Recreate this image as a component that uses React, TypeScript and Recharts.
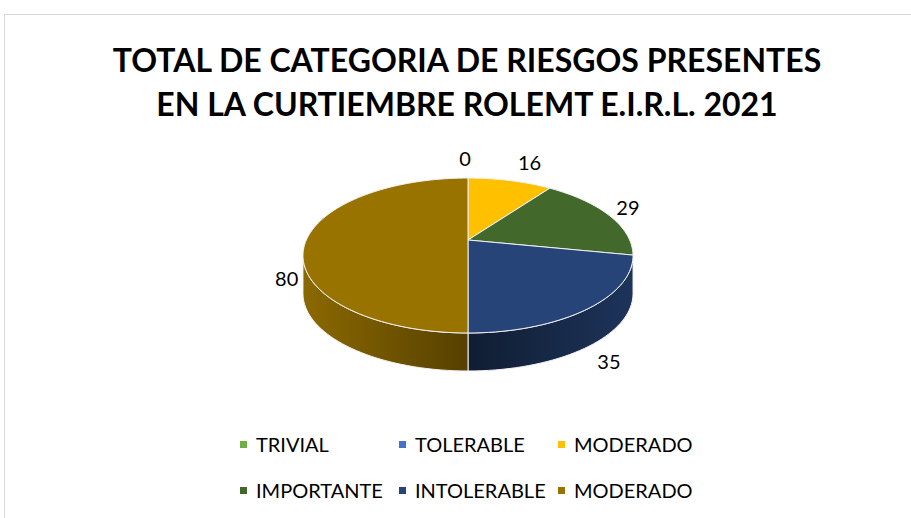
import { PieChart, Pie, Legend } from "recharts";

const categories = ["TRIVIAL", "TOLERABLE", "MODERADO", "IMPORTANTE", "INTOLERABLE", "MODERADO"];
const values = [0, 0, 16, 29, 35, 80];
const colors = ["#70AD47", "#4472C4", "#FFC000", "#43682B", "#264478", "#997300"];

const title = ["TOTAL DE CATEGORIA DE RIESGOS PRESENTES", "EN LA CURTIEMBRE ROLEMT E.I.R.L. 2021"];

const data = categories.map((name, i) => ({ name, value: values[i] }));

// 3d look: a tilted disc with a bit of perspective
const K = 0.2;
const RX = 161.7;
const RY = 74.4;
const DEPTH = 38;
const FONT = "Lato, 'Open Sans', sans-serif";

function proj(cx: number, cy: number, deg: number, dy = 0) {
  const r = (deg * Math.PI) / 180;
  const u = Math.cos(r);
  const v = -Math.sin(r);
  const d = 1 - K * v;
  return [cx + (RX * u) / d, cy + (RY * v) / d + dy];
}

function arc(cx: number, cy: number, from: number, to: number, dy = 0) {
  const n = Math.max(2, Math.ceil(Math.abs(to - from) / 2));
  const pts: number[][] = [];
  for (let i = 0; i <= n; i++) pts.push(proj(cx, cy, from + ((to - from) * i) / n, dy));
  return pts;
}

function shade(hex: string, f: number) {
  const n = parseInt(hex.slice(1), 16);
  const c = [(n >> 16) & 255, (n >> 8) & 255, n & 255].map((x) => Math.round(x * f));
  return `rgb(${c.join(",")})`;
}

const sideShade: Record<number, number[]> = { 4: [0.75, 0.42], 5: [0.9, 0.56] };

function Slice3D(props: any) {
  const { cx, cy, startAngle, endAngle, midAngle, index, value } = props;
  const color = colors[index];
  const parts: any[] = [];

  if (startAngle - endAngle > 0.01) {
    const top = arc(cx, cy, startAngle, endAngle);
    const d = `M${cx},${cy} ` + top.map((p) => `L${p[0]},${p[1]}`).join(" ") + " Z";

    const lo = Math.max(endAngle, -180 + 11.54);
    const hi = Math.min(startAngle, -11.54);
    if (hi > lo) {
      const [fe, fc] = sideShade[index] || [0.8, 0.5];
      const upper = arc(cx, cy, hi, lo);
      const lower = arc(cx, cy, lo, hi, DEPTH);
      const sd =
        upper.map((p, i) => `${i ? "L" : "M"}${p[0]},${p[1]}`).join(" ") +
        " " +
        lower.map((p) => `L${p[0]},${p[1]}`).join(" ") +
        " Z";
      parts.push(
        <defs key="g">
          <linearGradient id={`side-${index}`} gradientUnits="userSpaceOnUse" x1={cx - RX} x2={cx + RX} y1={0} y2={0}>
            <stop offset="0" stopColor={shade(color, fe)} />
            <stop offset="0.5" stopColor={shade(color, fc)} />
            <stop offset="1" stopColor={shade(color, fe)} />
          </linearGradient>
        </defs>,
        <path key="s" d={sd} fill={`url(#side-${index})`} stroke="#f2f2f2" strokeWidth={1} />
      );
    }
    parts.push(<path key="t" d={d} fill={color} stroke="#f2f2f2" strokeWidth={1} />);
  }

  // only one "0" label shows in the original
  if (index !== 0) {
    const [ex, ey] = proj(cx, cy, midAngle);
    const c = Math.cos((midAngle * Math.PI) / 180);
    const s = Math.sin((midAngle * Math.PI) / 180);
    const anchor = c > 0.1 ? "start" : c < -0.1 ? "end" : "middle";
    const x = ex + (anchor === "start" ? 8 : anchor === "end" ? -8 : -3);
    const y = ey - 20 * s + (-s > -0.2 ? DEPTH : 0);
    parts.push(
      <text key="l" x={x} y={y} textAnchor={anchor} dominantBaseline="central" fontSize={20} fontFamily={FONT} fill="#000">
        {value}
      </text>
    );
  }
  return <g>{parts}</g>;
}

function LegendBox() {
  return (
    <div style={{ position: "relative", width: 911, height: 90, fontFamily: FONT, fontSize: 20, color: "#000" }}>
      {categories.map((name, i) => (
        <div
          key={i}
          style={{
            position: "absolute",
            left: 240 + (i % 3) * 159,
            top: Math.floor(i / 3) * 46,
            height: 24,
            display: "flex",
            alignItems: "center",
            whiteSpace: "nowrap",
          }}
        >
          <span style={{ width: 7, height: 7, background: colors[i], marginRight: 9 }} />
          <span>{name}</span>
        </div>
      ))}
    </div>
  );
}

export default function App() {
  return (
    <div style={{ position: "absolute", left: 0, top: 0, width: 911, height: 518, background: "#fff", overflow: "hidden" }}>
      <div style={{ position: "absolute", left: 4, top: 14, width: 930, height: 540, border: "1px solid #d9d9d9" }} />
      <div
        style={{
          position: "absolute",
          top: 38,
          left: 0,
          width: 934,
          textAlign: "center",
          fontFamily: FONT,
          fontWeight: 700,
          fontSize: 32,
          lineHeight: "44px",
          color: "#000",
        }}
      >
        {title.map((t) => (
          <div key={t}>{t}</div>
        ))}
      </div>
      <div style={{ position: "absolute", left: 0, top: 0 }}>
        <PieChart width={911} height={518} margin={{ top: 0, right: 0, bottom: 0, left: 0 }}>
          <Pie
            data={data}
            dataKey="value"
            nameKey="name"
            cx={468}
            cy={240}
            outerRadius={160}
            startAngle={90}
            endAngle={-270}
            fill="transparent"
            stroke="none"
            label={Slice3D}
            labelLine={false}
            isAnimationActive={false}
          />
          <Legend
            verticalAlign="bottom"
            content={() => <LegendBox />}
            wrapperStyle={{ top: 432, left: 0, bottom: "auto", width: 911 }}
          />
        </PieChart>
      </div>
    </div>
  );
}
